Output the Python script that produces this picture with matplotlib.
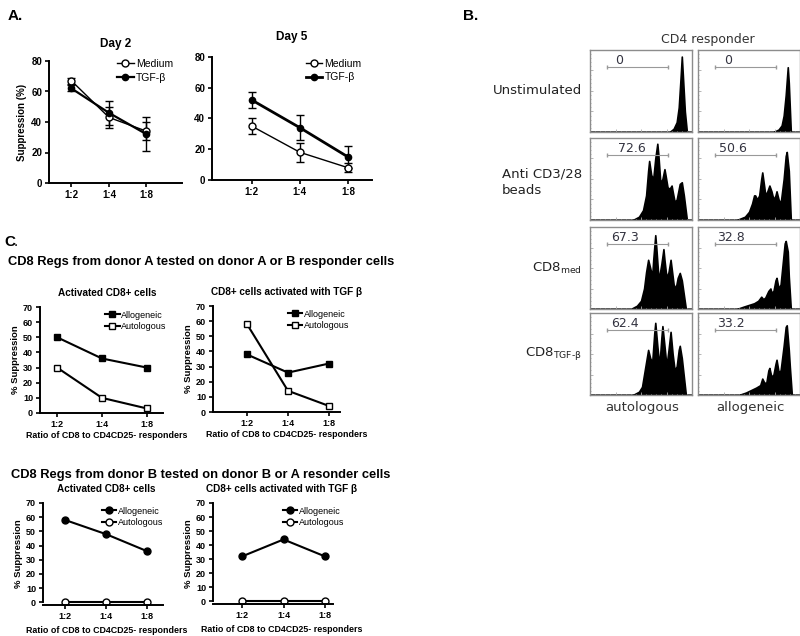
import numpy as np
import matplotlib
matplotlib.use("Agg")
import matplotlib.pyplot as plt

plt.rcParams['font.family'] = ['Liberation Sans', 'DejaVu Sans']

# ---- panel A data ----
ratios = ['1:2', '1:4', '1:8']
day2_medium = [67, 43, 34]
day2_medium_err = [2, 7, 6]
day2_tgf = [62, 46, 32]
day2_tgf_err = [2, 8, 11]
day5_medium = [35, 18, 8]
day5_medium_err = [5, 6, 3]
day5_tgf = [52, 34, 15]
day5_tgf_err = [5, 8, 7]

# ---- panel C data ----
c1_allo = [50, 36, 30]
c1_auto = [30, 10, 3]
c2_allo = [38, 26, 32]
c2_auto = [58, 14, 4]
c3_allo = [58, 48, 36]
c3_auto = [0, 0, 0]
c4_allo = [32, 44, 32]
c4_auto = [0, 0, 0]

# ---- panel B histograms (x in % of scale, relative height) ----
unstim_auto_x = [0, 78, 82, 85, 87, 89, 90, 91, 93, 95, 100]
unstim_auto_y = [0, 0, 0.04, 0.12, 0.3, 0.7, 0.92, 0.7, 0.25, 0, 0]
unstim_allo_x = [0, 74, 79, 82, 84, 86, 88, 89, 91, 100]
unstim_allo_y = [0, 0, 0.03, 0.08, 0.2, 0.45, 0.79, 0.6, 0, 0]
beads_auto_x = [0, 42, 48, 52, 55, 57, 58, 60, 62, 64, 66, 67, 69, 71, 73, 74, 76,
                78, 80, 81, 83, 85, 88, 90, 92, 95, 100]
beads_auto_y = [0, 0, 0.04, 0.12, 0.3, 0.6, 0.72, 0.55, 0.5, 0.75, 0.93, 0.8, 0.45,
                0.5, 0.62, 0.55, 0.4, 0.38, 0.42, 0.35, 0.22, 0.25, 0.44, 0.46, 0.3, 0, 0]
beads_allo_x = [0, 38, 46, 50, 53, 55, 56, 58, 60, 62, 63, 65, 66, 68, 70, 72, 74,
                76, 77, 79, 81, 84, 86, 87, 89, 91, 100]
beads_allo_y = [0, 0, 0.04, 0.1, 0.2, 0.3, 0.3, 0.25, 0.3, 0.5, 0.58, 0.4, 0.3, 0.35,
                0.42, 0.35, 0.25, 0.3, 0.35, 0.25, 0.2, 0.5, 0.78, 0.83, 0.6, 0, 0]
med_auto_x = [0, 40, 46, 50, 53, 55, 57, 59, 61, 62, 64, 65, 67, 68, 70, 72, 73, 75,
              77, 79, 80, 82, 84, 86, 88, 90, 94, 100]
med_auto_y = [0, 0, 0.04, 0.1, 0.25, 0.45, 0.6, 0.5, 0.4, 0.6, 0.9, 0.75, 0.4, 0.4,
              0.55, 0.73, 0.6, 0.38, 0.45, 0.6, 0.5, 0.3, 0.25, 0.38, 0.44, 0.35, 0, 0]
med_allo_x = [0, 38, 45, 50, 55, 59, 62, 64, 66, 69, 71, 72, 74, 76, 77, 79, 81, 83,
              85, 86, 88, 89, 91, 100]
med_allo_y = [0, 0, 0.03, 0.05, 0.07, 0.1, 0.15, 0.12, 0.14, 0.22, 0.25, 0.2, 0.22,
              0.35, 0.38, 0.25, 0.3, 0.55, 0.8, 0.83, 0.7, 0.4, 0, 0]
tgf_auto_x = [0, 42, 48, 51, 53, 55, 57, 59, 61, 63, 64, 66, 68, 70, 71, 73, 75, 77,
              79, 81, 83, 85, 87, 88, 90, 94, 100]
tgf_auto_y = [0, 0, 0.04, 0.1, 0.25, 0.4, 0.55, 0.45, 0.4, 0.75, 0.88, 0.6, 0.35, 0.7,
              0.84, 0.6, 0.35, 0.55, 0.77, 0.5, 0.3, 0.35, 0.55, 0.6, 0.45, 0, 0]
tgf_allo_x = [0, 40, 47, 52, 57, 61, 63, 65, 67, 69, 70, 72, 74, 76, 77, 79, 81, 84,
              86, 87, 89, 90, 92, 100]
tgf_allo_y = [0, 0, 0.03, 0.06, 0.09, 0.12, 0.2, 0.15, 0.15, 0.3, 0.33, 0.22, 0.25,
              0.38, 0.43, 0.28, 0.3, 0.6, 0.83, 0.85, 0.55, 0.35, 0, 0]
gate_labels = [['0', '0'], ['72.6', '50.6'], ['67.3', '32.8'], ['62.4', '33.2']]
label_pos = [[29, 30], [41, 34], [34, 32], [34, 32]]
row_names = ['Unstimulated', 'Anti CD3/28\nbeads', r'CD8$_{\mathregular{med}}$',
             r'CD8$_{\mathregular{TGF\text{-}\beta}}$']
col_names = ['autologous', 'allogeneic']

W, H = 800, 636
fig = plt.figure(figsize=(W / 100, H / 100), dpi=100)


def px_axes(x0, y0, x1, y1):
    return fig.add_axes([x0 / W, 1 - y1 / H, (x1 - x0) / W, (y1 - y0) / H])


def prism(ax, xlim, ylim, yticks, fs=7):
    for s in ['top', 'right']:
        ax.spines[s].set_visible(False)
    for s in ['left', 'bottom']:
        ax.spines[s].set_linewidth(1.4)
    ax.set_xlim(*xlim)
    ax.set_ylim(*ylim)
    ax.set_xticks(range(3))
    ax.set_xticklabels(ratios, fontweight='bold', fontsize=fs)
    ax.set_yticks(yticks)
    ax.set_yticklabels([str(t) for t in yticks], fontweight='bold', fontsize=fs)
    ax.tick_params(length=3, width=1.2, pad=2)


def a_panel(ax, medium, medium_err, tgf, tgf_err, tgf_lw, leg):
    e1 = ax.errorbar(x, medium, yerr=medium_err, color='black', lw=1.0, marker='o',
                     mfc='white', ms=5, capsize=3, elinewidth=1)
    e2 = ax.errorbar(x, tgf, yerr=tgf_err, color='black', lw=tgf_lw, marker='o',
                     ms=4.5, capsize=3, elinewidth=1)
    ax.legend([e1.lines[0], e2.lines[0]], ['Medium', 'TGF-β'], loc='upper left',
              bbox_to_anchor=leg, frameon=False, fontsize=7.5, handlelength=1.6,
              handletextpad=0.2, labelspacing=0.35, borderaxespad=0)


# ---------------- Panel A ----------------
fig.text(8 / W, 1 - 20 / H, 'A.', fontsize=11, fontweight='bold')
x = np.arange(3)

ax = px_axes(49, 61, 182, 183)
prism(ax, (-0.6, 2.95), (0, 80), [0, 20, 40, 60, 80])
a_panel(ax, day2_medium, day2_medium_err, day2_tgf, day2_tgf_err, 1.6, (0.48, 1.05))
ax.set_title('Day 2', fontsize=8.5, fontweight='bold', pad=10)
ax.set_ylabel('Suppression (%)', fontsize=7, fontweight='bold', labelpad=3)

ax = px_axes(212, 57, 372, 180)
prism(ax, (-0.83, 2.5), (0, 80), [0, 20, 40, 60, 80])
a_panel(ax, day5_medium, day5_medium_err, day5_tgf, day5_tgf_err, 2.0, (0.56, 1.02))
ax.set_title('Day 5', fontsize=8.5, fontweight='bold', pad=12)

# ---------------- Panel B ----------------
fig.text(463 / W, 1 - 20 / H, 'B.', fontsize=11, fontweight='bold')
fig.text(708 / W, 1 - 40 / H, 'CD4 responder', fontsize=9, color='#333333',
         family='DejaVu Sans', ha='center', va='center')
hist_x = [[unstim_auto_x, unstim_allo_x], [beads_auto_x, beads_allo_x],
          [med_auto_x, med_allo_x], [tgf_auto_x, tgf_allo_x]]
hist_y = [[unstim_auto_y, unstim_allo_y], [beads_auto_y, beads_allo_y],
          [med_auto_y, med_allo_y], [tgf_auto_y, tgf_allo_y]]
row_tops = [50, 138, 227, 313]
col_lefts = [590, 698]
for r in range(4):
    for c in range(2):
        x0 = col_lefts[c]
        y0 = row_tops[r]
        ax = px_axes(x0, y0, x0 + 102, y0 + 82)
        ax.fill_between(hist_x[r][c], hist_y[r][c], facecolor='black',
                        edgecolor='black', lw=1.2)
        ax.set_xlim(0, 100)
        ax.set_ylim(0, 1.0)
        for s in ax.spines.values():
            s.set_color('#8c8c8c')
            s.set_linewidth(1.0)
        ax.set_xticks(np.linspace(0, 100, 5))
        ax.set_xticks(np.linspace(0, 100, 21), minor=True)
        ax.set_yticks(np.linspace(0, 1, 5))
        ax.set_yticks(np.linspace(0, 1, 21), minor=True)
        ax.tick_params(which='both', direction='in', color='#aaaaaa', labelleft=False,
                       labelbottom=False, length=2, width=0.6)
        ax.tick_params(which='minor', length=1)
        ax.plot([17, 76], [0.79, 0.79], color='#999999', lw=0.8)
        ax.plot([17, 76], [0.79, 0.79], ls='none', marker='|', ms=3, color='#999999')
        ax.text(label_pos[r][c], 0.87, gate_labels[r][c], fontsize=9, color='#333340',
                family='DejaVu Sans', ha='center', va='center')
    if r == 1:
        fig.text(502 / W, 1 - (y0 + 44) / H, row_names[r], fontsize=9.5, color='#222222',
                 family='DejaVu Sans', ha='left', va='center', linespacing=1.3)
    else:
        fig.text(582 / W, 1 - (y0 + 41) / H, row_names[r], fontsize=9.5, color='#222222',
                 family='DejaVu Sans', ha='right', va='center')
for c in range(2):
    fig.text((col_lefts[c] + 52) / W, 1 - 408 / H, col_names[c], fontsize=9.5,
             color='#333333', family='DejaVu Sans', ha='center', va='center')

# ---------------- Panel C ----------------
fig.text(4 / W, 1 - 246 / H, 'C', fontsize=11, fontweight='bold')
fig.text(14 / W, 1 - 246 / H, '.', fontsize=11)
fig.text(201 / W, 1 - 262 / H, 'CD8 Regs from donor A tested on donor A or B responder cells',
         fontsize=9.3, fontweight='bold', ha='center', va='center')
fig.text(201 / W, 1 - 475 / H, 'CD8 Regs from donor B tested on donor B or A resonder cells',
         fontsize=9.3, fontweight='bold', ha='center', va='center')

c_yticks = [0, 10, 20, 30, 40, 50, 60, 70]
c_specs = [
    ((40, 307, 163, 413), (-0.38, 2.36), (0, 70), 'Activated CD8+ cells',
     c1_allo, c1_auto, 's', (0.5, 1.0), 0.545, -0.21),
    ((213, 306, 340, 412), (-0.83, 2.27), (0, 70), 'CD8+ cells activated with TGF β',
     c2_allo, c2_auto, 's', (0.56, 1.0), 0.58, -0.21),
    ((43, 503, 163, 605), (-0.54, 2.39), (-2, 70), 'Activated CD8+ cells',
     c3_allo, c3_auto, 'o', (0.46, 1.0), 0.53, -0.25),
    ((213, 503, 333, 604), (-0.71, 2.2), (-2, 70), 'CD8+ cells activated with TGF β',
     c4_allo, c4_auto, 'o', (0.55, 1.0), 0.575, -0.25),
]
for box, xl, yl, title, allo, auto, mk, leg, xc, xly in c_specs:
    ax = px_axes(*box)
    prism(ax, xl, yl, c_yticks, fs=6.5)
    ax.spines['left'].set_bounds(0, 70)
    ax.plot(x, allo, color='black', lw=1.5, marker=mk, ms=5, label='Allogeneic')
    ax.plot(x, auto, color='black', lw=1.5, marker=mk, ms=5, mfc='white', mew=1.0,
            label='Autologous')
    ax.set_title(title, fontsize=7.2, fontweight='bold', pad=8, x=xc)
    ax.set_ylabel('% Suppression', fontsize=6.8, fontweight='bold', labelpad=2)
    ax.set_xlabel('Ratio of CD8 to CD4CD25- responders', fontsize=6.4,
                  fontweight='bold', va='center')
    ax.xaxis.set_label_coords(xc, xly)
    ax.legend(loc='upper left', bbox_to_anchor=leg, frameon=False, fontsize=6.5,
              handlelength=1.6, handletextpad=0.2, labelspacing=0.3, borderaxespad=0)

fig.savefig('out.png', dpi=100)
